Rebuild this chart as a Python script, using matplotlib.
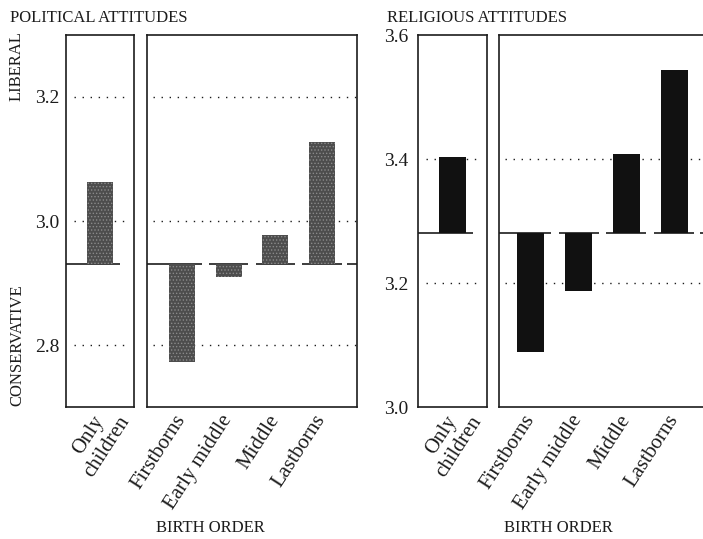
import numpy as np
import matplotlib
matplotlib.use('Agg')
import matplotlib.pyplot as plt

plt.rcParams['font.family'] = ['Liberation Serif', 'DejaVu Serif']
plt.rcParams['lines.scale_dashes'] = False
plt.rcParams['hatch.linewidth'] = 0.6

only_label = 'Only\nchildren'
birth_labels = ['Firstborns', 'Early middle', 'Middle', 'Lastborns']

political_base = 2.93
political_only = 3.063
political_birth = [2.773, 2.909, 2.977, 3.127]
political_ticks = [2.8, 3.0, 3.2]

religious_base = 3.281
religious_only = 3.404
religious_birth = [3.089, 3.187, 3.408, 3.543]
religious_ticks = [3.0, 3.2, 3.4, 3.6]
religious_grid = [3.2, 3.4]

W, H = 703, 539
fig = plt.figure(figsize=(W / 100, H / 100), dpi=100)

def box(x0, x1, y0=35, y1=407):
    return fig.add_axes([x0 / W, 1 - y1 / H, (x1 - x0) / W, (y1 - y0) / H])

ink = '#1c1c1c'
dots = (0, (1, 4.8))

def style(ax):
    for s in ax.spines.values():
        s.set_linewidth(1.2)
        s.set_color(ink)
    ax.tick_params(length=0, colors=ink)

def baseline(ax, xs, base, lo, hi):
    # short rule under each bar, gaps between categories
    left = [x - 0.42 for x in xs]
    right = [x + 0.42 for x in xs]
    left[0] = lo
    ax.hlines([base] * len(xs), left, right, color=ink, lw=1.2, zorder=1)
    if right[-1] < hi:
        ax.hlines(base, right[-1] + 0.12, hi, color=ink, lw=1.2, zorder=1)

def panel(ax_only, ax_main, base, only_val, birth_vals, ylim, grid, color, hatch, half_only, main_lim):
    for ax in (ax_only, ax_main):
        style(ax)
        ax.set_ylim(*ylim)
    ax_only.set_xlim(-half_only, half_only)
    ax_main.set_xlim(*main_lim)

    for g in grid:
        ax_only.axhline(g, xmin=0.12, xmax=0.93, color=ink, lw=1, ls=dots, zorder=0)
        ax_main.axhline(g, xmin=0.03, xmax=1.0, color=ink, lw=1, ls=dots, zorder=0)

    kw = dict(color=color, zorder=2, hatch=hatch, edgecolor='#8a8a8a', linewidth=0)
    ax_only.bar([0], [only_val - base], bottom=base, width=0.55, **kw)
    xs = np.arange(len(birth_vals))
    ax_main.bar(xs, np.array(birth_vals) - base, bottom=base, width=0.56, **kw)

    baseline(ax_only, [0], base, -half_only, 0.4)
    baseline(ax_main, list(xs), base, main_lim[0], main_lim[1])

    # two-line label sits a bit right of its bar
    ax_only.set_xticks([])
    ax_only.annotate(only_label, xy=(0, 0), xycoords=('data', 'axes fraction'),
                     xytext=(12, -4), textcoords='offset points', rotation=57,
                     ha='right', va='center', rotation_mode='anchor',
                     multialignment='center', fontsize=15, color=ink)
    ax_main.set_xticks(xs)
    ax_main.set_xticklabels(birth_labels, rotation=57, ha='right', va='center',
                            rotation_mode='anchor', fontsize=15)
    ax_main.tick_params(axis='x', pad=7)
    ax_main.set_yticks([])

# political attitudes
a1 = box(66, 134)
a2 = box(147, 357)
panel(a1, a2, political_base, political_only, political_birth, (2.7, 3.3),
      political_ticks, '#4d4d4d', '.....', 0.73, (-0.75, 3.75))
a1.set_yticks(political_ticks)
a1.set_yticklabels([f'{t:.1f}' for t in political_ticks], fontsize=14)
a1.tick_params(axis='y', pad=5)

# religious attitudes
a3 = box(418, 487)
a4 = box(499, 706)
panel(a3, a4, religious_base, religious_only, religious_birth, (3.0, 3.6),
      religious_grid, '#111111', None, 0.72, (-0.665, 3.665))
a3.set_yticks(religious_ticks)
a3.set_yticklabels([f'{t:.1f}' for t in religious_ticks], fontsize=14)
a3.tick_params(axis='y', pad=7)

fs = 12
fig.text(10 / W, 1 - 18 / H, 'POLITICAL ATTITUDES', fontsize=fs, color=ink, va='center')
fig.text(387 / W, 1 - 18 / H, 'RELIGIOUS ATTITUDES', fontsize=fs, color=ink, va='center')
fig.text(17 / W, 1 - 66 / H, 'LIBERAL', fontsize=fs, color=ink, rotation=90, ha='center', va='center')
fig.text(17 / W, 1 - 345 / H, 'CONSERVATIVE', fontsize=fs, color=ink, rotation=90, ha='center', va='center')
fig.text(210 / W, 1 - 528 / H, 'BIRTH ORDER', fontsize=fs, color=ink, ha='center', va='center')
fig.text(558 / W, 1 - 528 / H, 'BIRTH ORDER', fontsize=fs, color=ink, ha='center', va='center')

fig.savefig('out.png', dpi=100)
